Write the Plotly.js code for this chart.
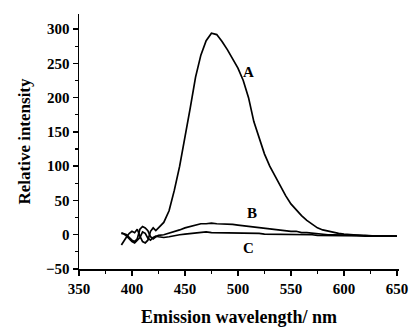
<!DOCTYPE html>
<html><head><meta charset="utf-8">
<script src="https://cdn.plot.ly/plotly-3.0.1.min.js"></script>
<style>html,body{margin:0;padding:0;background:#fff}#c{width:413px;height:327px}</style>
</head><body><div id="c"></div>
<script>
const wavelength = [390,392.5,395,397.5,400,402.5,405,407.5,410,412.5,415,417.5,420,422.5,425,
430,435,440,445,450,455,460,465,470,475,480,485,490,495,500,505,510,515,520,525,530,535,540,545,550,555,560,565,570,575,580,585,590,595,600,605,610,615,620,625,630,635,640,645,650];
const seriesA = [-15,-8,-3,2,5,3,8,-2,-10,-12,-8,5,10,6,10,
18,35,65,100,140,185,230,262,283,294,292,282,270,257,243,225,200,165,140,118,100,85,70,57,45,36,28,21,15,10,7,5,3,2,1,0,-1,-1,-1,-2,-2,-2,-2,-2,-2];
const seriesB = [3,2,0,-4,-8,-10,-6,8,12,10,6,-3,-6,-3,-1,
0,2,5,7,10,12,15,16,16,17,16,16,15,15,14,13,13,12,11,10,8,7,6,5,5,5,3,3,2,1,1,0,0,0,-1,-1,-1,-1,-2,-2,-2,-2,-2,-2,-2];
const seriesC = [2,1,-2,-6,-10,-12,-8,-4,4,2,-5,-8,-4,-2,-3,
-4,-3,-1,0,1,2,3,3,4,3,3,3,2,2,3,2,2,2,2,1,1,1,0,1,0,0,0,0,0,-1,-1,-1,-1,-1,-1,-1,-1,-2,-2,-2,-2,-2,-2,-2,-2];
const labels = [{t:'A',x:510,y:238},{t:'B',x:513,y:31},{t:'C',x:510,y:-19}];

const fam = 'Liberation Serif';
const f = (s)=>({family:fam,size:s,color:'#000',weight:'bold'});
const mk = (y)=>({x:wavelength,y:y,type:'scatter',mode:'lines',line:{color:'#000',width:1.7},hoverinfo:'skip'});
const data = [mk(seriesA),mk(seriesB),mk(seriesC)];
const layout = {
  width:413,height:327,margin:{l:79,r:14,t:14,b:58},
  font:f(15),
  paper_bgcolor:'#fff',plot_bgcolor:'#fff',showlegend:false,
  xaxis:{range:[350,652],tick0:350,dtick:50,ticks:'outside',ticklen:5,tickwidth:1.5,tickcolor:'#000',
    showline:true,linewidth:1.5,linecolor:'#000',showgrid:false,zeroline:false,
    minor:{dtick:25,ticks:'outside',ticklen:3,tickwidth:1.2,tickcolor:'#000'},
    tickfont:f(15),
    title:{text:'Emission wavelength/ nm',font:f(18),standoff:15}},
  yaxis:{range:[-50,322],tick0:-50,dtick:50,ticks:'outside',ticklen:5,tickwidth:1.5,tickcolor:'#000',
    showline:true,linewidth:1.5,linecolor:'#000',showgrid:false,zeroline:false,
    minor:{dtick:25,ticks:'outside',ticklen:3,tickwidth:1.2,tickcolor:'#000'},
    tickfont:f(15),
    title:{text:'Relative intensity',font:f(17),standoff:11}},
  annotations:labels.map(l=>({x:l.x,y:l.y,text:l.t,showarrow:false,font:f(15)}))
};
Plotly.newPlot('c',data,layout,{staticPlot:true,displayModeBar:false});
</script></body></html>
